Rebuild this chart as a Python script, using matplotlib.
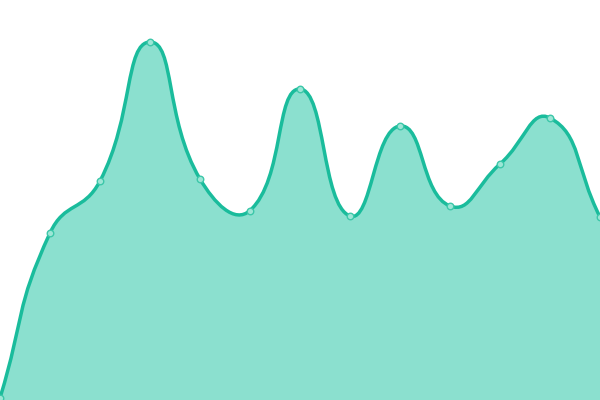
import numpy as np
import matplotlib
matplotlib.use("Agg")
import matplotlib.pyplot as plt
from matplotlib.path import Path
from matplotlib.patches import PathPatch

# data
x_vals = [0, 50, 100, 150, 200, 250, 300, 350, 400, 450, 500, 550, 600]
y_vals = [2, 167, 219, 358, 221, 189.5, 311, 184, 274, 194, 236, 282, 183]

LINE = "#1abc9c"
FILL = "#8be0cf"

def smooth_path(xs, ys, smooth=0.5):
    xs = np.asarray(xs, float); ys = np.asarray(ys, float)
    n = len(xs)
    verts = [(xs[0], ys[0])]
    codes = [Path.MOVETO]
    cps_out = []
    cps_in = []
    for i in range(n):
        px, py = (xs[i-1], ys[i-1]) if i > 0 else (xs[i], ys[i])
        nx, ny = (xs[i+1], ys[i+1]) if i < n-1 else (xs[i], ys[i])
        vx, vy = nx - px, ny - py
        l0 = np.hypot(xs[i]-px, ys[i]-py)
        l1 = np.hypot(nx-xs[i], ny-ys[i])
        r = 0.5 if l0 + l1 == 0 else l1 / (l0 + l1)
        cps_in.append((xs[i] - vx*smooth*(1-r), ys[i] - vy*smooth*(1-r)))
        cps_out.append((xs[i] + vx*smooth*r, ys[i] + vy*smooth*r))
    for i in range(n-1):
        verts += [cps_out[i], cps_in[i+1], (xs[i+1], ys[i+1])]
        codes += [Path.CURVE4]*3
    return verts, codes

fig = plt.figure(figsize=(6, 4), dpi=100)
ax = fig.add_axes([0, 0, 1, 1])
ax.set_xlim(0, 600)
ax.set_ylim(0, 400)
ax.axis("off")

verts, codes = smooth_path(x_vals, y_vals)
area_verts = verts + [(x_vals[-1], 0), (x_vals[0], 0), verts[0]]
area_codes = codes + [Path.LINETO, Path.LINETO, Path.CLOSEPOLY]
ax.add_patch(PathPatch(Path(area_verts, area_codes), facecolor=FILL, edgecolor="none"))
ax.add_patch(PathPatch(Path(verts, codes), facecolor="none", edgecolor=LINE, lw=2.5))
ax.scatter(x_vals, y_vals, s=22, facecolor="#9de6d6", edgecolor="#3cc7a9", linewidth=1, zorder=5, clip_on=False)

fig.savefig("out.png", dpi=100)
